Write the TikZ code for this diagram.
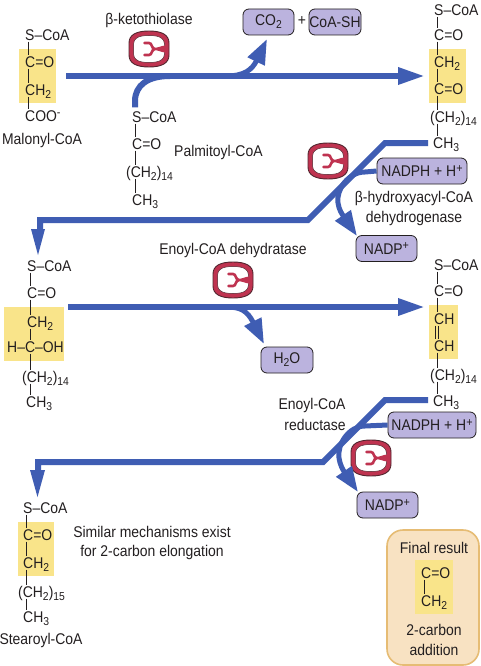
\documentclass[tikz,border=0pt]{standalone}
\usepackage{fontspec}
\setmainfont[FakeStretch=0.9]{Liberation Sans}
\usetikzlibrary{arrows.meta,shapes.misc}
\definecolor{flowblue}{HTML}{3F5DB3}
\definecolor{boxpurple}{HTML}{BBB3DE}
\definecolor{hiyellow}{HTML}{F9E48A}
\definecolor{enzred}{HTML}{BF3350}
\definecolor{finalfill}{HTML}{F8E2C2}
\definecolor{finaledge}{HTML}{E6BC74}
\definecolor{inkdark}{HTML}{231F20}
\newcommand{\sbs}[1]{\raisebox{-0.35ex}{\fontsize{11.5}{12}\selectfont #1}}
\newcommand{\sps}[1]{\raisebox{0.55ex}{\fontsize{12}{12}\selectfont #1}}
\tikzset{
  txt/.style={inner sep=0pt,text=inkdark,font=\fontsize{15.5}{17}\selectfont,align=center},
  chem/.style={txt,anchor=west,inner ysep=1pt,text height=11pt,text depth=0pt},
  bond/.style={draw=inkdark,line width=0.8pt},
  hilite/.style={fill=hiyellow,draw=none},
  flow/.style={draw=flowblue,line width=6pt},
  flowhead/.style={flow,-{Triangle[length=27pt,width=16pt]}},
  sidehead/.style={draw=flowblue,line width=5pt,-{Triangle[length=25pt,width=18pt]}},
  cofactor/.style={txt,draw=inkdark,line width=0.8pt,fill=boxpurple,rounded corners=6pt,minimum height=26pt},
  pics/enzymeicon/.style={code={
    \fill[enzred,draw=inkdark!70!enzred,line width=0.9pt] (-20,-6) .. controls (-20,-14) and (-13,-18) .. (0,-18) .. controls (13,-18) and (20,-14) .. (20,-6) -- (20,6) .. controls (20,14) and (13,18) .. (0,18) .. controls (-13,18) and (-20,14) .. (-20,6) -- cycle;
    \fill[white,draw=inkdark!70!enzred,line width=0.5pt] (-15.5,-5) .. controls (-15.5,-11) and (-10,-13.5) .. (0,-13.5) .. controls (10,-13.5) and (15.5,-11) .. (15.5,-5) -- (15.5,5) .. controls (15.5,11) and (10,13.5) .. (0,13.5) .. controls (-10,13.5) and (-15.5,11) .. (-15.5,5) -- cycle;
    \fill[enzred] (16,-3.5) .. controls (11,-3) and (9,-1) .. (6,-1) -- (6,1) .. controls (9,1) and (11,3) .. (16,3.5) -- cycle;
    \draw[enzred,line width=2.6pt,line cap=round] (-4.5,-6) -- (0,-6) .. controls (3.5,-6) and (2,-0.5) .. (6,0) .. controls (2,0.5) and (3.5,6) .. (0,6) -- (-4.5,6);
  }}
}
\begin{document}
\begin{tikzpicture}[x=1pt,y=-1pt]
\useasboundingbox (0,0) rectangle (481,666);
\fill[white] (0,0) rectangle (481,666);

% highlights
\fill[hilite] (19,49) rectangle (56,103);
\fill[hilite] (429,49) rectangle (466,103);
\fill[hilite] (4,307) rectangle (64,361);
\fill[hilite] (429,305) rectangle (458,359);
\fill[hilite] (18,522) rectangle (54,576);

% final result panel
\node[draw=finaledge,line width=1.6pt,fill=finalfill,rounded corners=16pt,minimum width=92pt,minimum height=135pt,inner sep=0pt] (finalbox) at (433,597.5) {};
\fill[hilite] (415,560) rectangle (453,614);

% malonyl-CoA
\coordinate (k1) at (28,0);
\node[chem] (a1) at (25,35) {S–CoA};
\node[chem] (a2) at (25,62) {C=O};
\node[chem] (a3) at (25,90) {CH\sbs{2}};
\node[chem] (a4) at (25,116) {COO\sps{-}};
\node[txt] (malonyl) at (42,140) {Malonyl-CoA};
\foreach \p/\q in {a1/a2,a2/a3,a3/a4} \draw[bond] (k1 |- \p.south) -- (k1 |- \q.north);

% palmitoyl-CoA
\coordinate (k2) at (135,0);
\node[chem] (b1) at (132,117) {S–CoA};
\node[chem] (b2) at (132,144) {C=O};
\node[chem] (b3) at (126,172) {(CH\sbs{2})\sbs{14}};
\node[chem] (b4) at (132,200) {CH\sbs{3}};
\node[txt,anchor=west] (palm) at (174,152) {Palmitoyl-CoA};
\foreach \p/\q in {b1/b2,b2/b3,b3/b4} \draw[bond] (k2 |- \p.south) -- (k2 |- \q.north);

% ketoacyl stack
\coordinate (k3) at (437,0);
\node[chem] (c1) at (434,10) {S–CoA};
\node[chem] (c2) at (434,35) {C=O};
\node[chem] (c3) at (434,62) {CH\sbs{2}};
\node[chem] (c4) at (434,89) {C=O};
\node[chem] (c5) at (430,117) {(CH\sbs{2})\sbs{14}};
\node[chem] (c6) at (433,143) {CH\sbs{3}};
\foreach \p/\q in {c1/c2,c2/c3,c3/c4,c4/c5,c5/c6} \draw[bond] (k3 |- \p.south) -- (k3 |- \q.north);

% hydroxyacyl stack
\coordinate (k4) at (30,0);
\node[chem] (d1) at (27,266) {S–CoA};
\node[chem] (d2) at (27,293) {C=O};
\node[chem] (d3) at (27,322) {CH\sbs{2}};
\node[chem] (d4) at (7,347) {H–C–OH};
\node[chem] (d5) at (22,377) {(CH\sbs{2})\sbs{14}};
\node[chem] (d6) at (26,402) {CH\sbs{3}};
\foreach \p/\q in {d1/d2,d2/d3,d3/d4,d4/d5,d5/d6} \draw[bond] (k4 |- \p.south) -- (k4 |- \q.north);

% enoyl stack
\coordinate (k5) at (437,0);
\coordinate (k5a) at (435.7,0);
\coordinate (k5b) at (438.7,0);
\node[chem] (e1) at (434,265) {S–CoA};
\node[chem] (e2) at (434,291) {C=O};
\node[chem] (e3) at (434,319) {CH};
\node[chem] (e4) at (434,346) {CH};
\node[chem] (e5) at (430,375) {(CH\sbs{2})\sbs{14}};
\node[chem] (e6) at (433,401) {CH\sbs{3}};
\foreach \p/\q in {e1/e2,e2/e3,e4/e5,e5/e6} \draw[bond] (k5 |- \p.south) -- (k5 |- \q.north);
\draw[bond] (k5a |- e3.south) -- (k5a |- e4.north);
\draw[bond] (k5b |- e3.south) -- (k5b |- e4.north);

% stearoyl-CoA
\coordinate (k6) at (26,0);
\node[chem] (f1) at (23,508) {S–CoA};
\node[chem] (f2) at (23,535) {C=O};
\node[chem] (f3) at (23,563) {CH\sbs{2}};
\node[chem] (f4) at (18,592) {(CH\sbs{2})\sbs{15}};
\node[chem] (f5) at (23,617) {CH\sbs{3}};
\node[txt] (stearoyl) at (41,640) {Stearoyl-CoA};
\foreach \p/\q in {f1/f2,f2/f3,f3/f4,f4/f5} \draw[bond] (k6 |- \p.south) -- (k6 |- \q.north);

% final result content
\coordinate (k7) at (424,0);
\node[txt] (fr) at (434,548) {Final result};
\node[chem] (g1) at (421,573) {C=O};
\node[chem] (g2) at (421,601) {CH\sbs{2}};
\draw[bond] (k7 |- g1.south) -- (k7 |- g2.north);
\node[txt] (fr2) at (434,630) {2-carbon};
\node[txt] (fr3) at (434,650) {addition};

% cofactors
\node[cofactor,minimum width=51pt] (co2) at (268.5,22) {CO\sbs{2}};
\node[txt] (plus) at (302,21) {+};
\node[cofactor,minimum width=52pt] (coash) at (335,22) {CoA-SH};
\node[cofactor,minimum width=90pt] (nadph1) at (422,171) {NADPH + H\sps{+}};
\node[cofactor,minimum width=61pt] (nadp1) at (386.5,248.5) {NADP\sps{+}};
\node[cofactor,minimum width=52pt] (water) at (287,360) {H\sbs{2}O};
\node[cofactor,minimum width=88pt] (nadph2) at (432,425) {NADPH + H\sps{+}};
\node[cofactor,minimum width=61pt] (nadp2) at (387.5,505) {NADP\sps{+}};

% labels
\node[txt] (l1) at (149,20) {β-ketothiolase};
\node[txt] (l2) at (414,198) {β-hydroxyacyl-CoA};
\node[txt] (l3) at (414,218) {dehydrogenase};
\node[txt] (l4) at (233,250) {Enoyl-CoA dehydratase};
\node[txt] (l5) at (312,405) {Enoyl-CoA};
\node[txt] (l6) at (315,425) {reductase};
\node[txt] (l7) at (152,532) {Similar mechanisms exist};
\node[txt] (l8) at (152,552) {for 2-carbon elongation};

% enzymes
\pic at (149,49) {enzymeicon};
\pic at (328,161) {enzymeicon};
\pic at (233,280) {enzymeicon};
\pic at (371,458) {enzymeicon};

% flow arrows
\coordinate (m1s) at (66,76);
\coordinate (m1e) at (425,76);
\draw[flowhead] (m1s) -- (m1e);
\coordinate (pj) at (170,76);
\draw[flow] (k2 |- b1.north) ++(0,-3) -- ++(0,-6) .. controls (135,85) and (148,76) .. (pj);
\coordinate (co2start) at (226,76);
\coordinate (co2tip) at (267,39);
\draw[sidehead] (co2start) .. controls (244,76) and (252,70) .. (co2tip);

% second step
\coordinate (n1a) at (428,143);
\coordinate (n1b) at (385,143);
\coordinate (n1c) at (308,220);
\coordinate (n1d) at (40,220);
\coordinate (n1e) at (38,255);
\draw[flow,line join=miter] (n1a) -- (n1b) -- (n1c) -- (n1d) -- (40,232);
\draw[draw=none,fill=flowblue] (31,229) -- (45,229) -- (n1e) -- cycle;
\coordinate (n1tip) at (357,236);
\draw[sidehead] (nadph1.west) -- (365,172) .. controls (348,172) and (336,190) .. (338,203) .. controls (339,210) and (342,214) .. (n1tip);

% third step
\coordinate (m2s) at (68,307);
\coordinate (m2e) at (425,307);
\draw[flowhead] (m2s) -- (m2e);
\coordinate (wstart) at (226,307);
\coordinate (wtip) at (264,344);
\draw[sidehead] (wstart) .. controls (240,307) and (247,310) .. (wtip);

% fourth step
\coordinate (n2a) at (428,400);
\coordinate (n2b) at (385,400);
\coordinate (n2c) at (323,462);
\coordinate (n2d) at (38,462);
\coordinate (n2e) at (37.5,497);
\draw[flow,line join=miter] (n2a) -- (n2b) -- (n2c) -- (n2d) -- (38,473);
\draw[draw=none,fill=flowblue] (30,470) -- (45,470) -- (n2e) -- cycle;
\coordinate (n2tip) at (358,492);
\draw[sidehead] (nadph2.west) -- (365,426) .. controls (349,426) and (337,444) .. (339,458) .. controls (340,465) and (343,470) .. (n2tip);
\end{tikzpicture}
\end{document}
